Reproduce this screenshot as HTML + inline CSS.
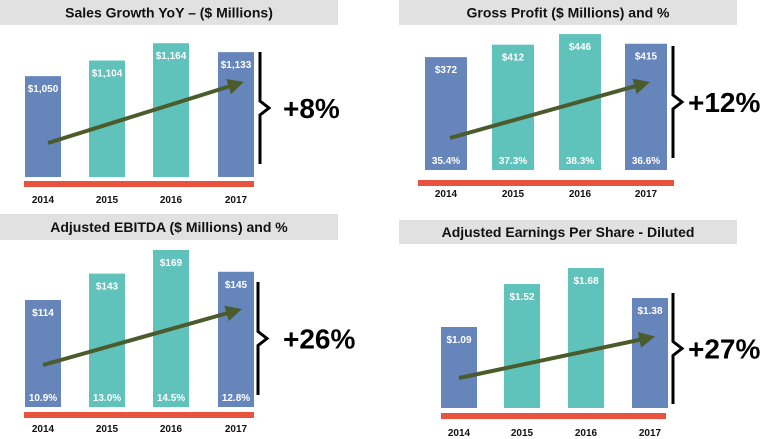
<!DOCTYPE html>
<html><head><meta charset="utf-8"><style>
html,body{margin:0;padding:0;background:#fff;width:760px;height:439px;overflow:hidden}
svg{display:block;font-family:"Liberation Sans",Arial,sans-serif}
</style></head><body>
<svg id="c" width="760" height="439" viewBox="0 0 760 439"></svg>
<script>
const years = ["2014","2015","2016","2017"];
const salesValues = [1050,1104,1164,1133];
const salesLabels = ["$1,050","$1,104","$1,164","$1,133"];
const gpValues = [372,412,446,415];
const gpLabels = ["$372","$412","$446","$415"];
const gpPct = ["35.4%","37.3%","38.3%","36.6%"];
const ebitdaValues = [114,143,169,145];
const ebitdaLabels = ["$114","$143","$169","$145"];
const ebitdaPct = ["10.9%","13.0%","14.5%","12.8%"];
const epsValues = [1.09,1.52,1.68,1.38];
const epsLabels = ["$1.09","$1.52","$1.68","$1.38"];
const growthLabels = ["+8%","+12%","+26%","+27%"];

const NS="http://www.w3.org/2000/svg";
const svg=document.getElementById('c');
function mk(tag,attrs,parent){const e=document.createElementNS(NS,tag);for(const k in attrs)e.setAttribute(k,attrs[k]);(parent||svg).appendChild(e);return e;}
function txt(s,attrs,parent){const e=mk('text',attrs,parent);e.textContent=s;return e;}

const defs=mk('defs',{});
const mkr=mk('marker',{id:'ah',markerWidth:'4',markerHeight:'4',refX:'2.2',refY:'2',orient:'auto',markerUnits:'strokeWidth'},defs);
mk('path',{d:'M0,0 L4,2 L0,4 Z',fill:'#4b5b2b'},mkr);

const panels=[
 {name:'sales',title:'Sales Growth YoY – ($ Millions)',vals:salesValues,labels:salesLabels,pct:null,growth:growthLabels[0],
  tb:[0,0,338,25],bx:[25,89,153,218],bw:36,bottom:177,k:0.289,min:701,red:[24,181,230,6],yrY:203,
  br:[260,52,164],gx:283,arrow:[48,143,237,84]},
 {name:'gross-profit',title:'Gross Profit ($ Millions) and %',vals:gpValues,labels:gpLabels,pct:gpPct,growth:growthLabels[1],
  tb:[399,0,338,25],bx:[425,492,559,625],bw:42,bottom:170,k:0.311,min:9,red:[418,180,256,6],yrY:197,
  br:[673,46,158],gx:688,arrow:[450,138,643,84]},
 {name:'ebitda',title:'Adjusted EBITDA ($ Millions) and %',vals:ebitdaValues,labels:ebitdaLabels,pct:ebitdaPct,growth:growthLabels[2],
  tb:[0,214,338,26],bx:[25,89,153,218],bw:36,bottom:407,k:0.91,min:-3.6,red:[24,412,230,6],yrY:432,
  br:[258,282,395],gx:283,arrow:[43,365,235,311]},
 {name:'eps',title:'Adjusted Earnings Per Share - Diluted',vals:epsValues,labels:epsLabels,pct:null,growth:growthLabels[3],
  tb:[399,220,338,24],bx:[441,504,568,632],bw:36,bottom:408,k:100,min:0.28,red:[441,413,225,6],yrY:436,
  br:[673,293,404],gx:688,arrow:[459,378,648,338]}
];
const colors=['#6585bb','#5fc2bb','#5fc2bb','#6585bb'];

panels.forEach(p=>{
 const g=mk('g',{});
 
 
 const tb=mk('rect',{x:p.tb[0],y:p.tb[1],width:p.tb[2],height:p.tb[3],fill:'#e1e1e1'},g);
 
 
 const t=txt(p.title,{x:p.tb[0]+p.tb[2]/2,y:p.tb[1]+p.tb[3]/2+5,'text-anchor':'middle','font-size':'14','font-weight':'bold',fill:'#111'},g);
 
 
 const yScale=v=>(v-p.min)*p.k;
 p.vals.forEach((v,i)=>{
  const h=yScale(v), x=p.bx[i], top=p.bottom-h;
  const r=mk('rect',{x:x,y:top,width:p.bw,height:h,fill:colors[i]},g);
  
  
  const l=txt(p.labels[i],{x:x+p.bw/2,y:top+16,'text-anchor':'middle','font-size':'10','font-weight':'bold',fill:'#fff'},g);
  
  
  if(p.pct){
   const pl=txt(p.pct[i],{x:x+p.bw/2,y:p.bottom-6,'text-anchor':'middle','font-size':'10','font-weight':'bold',fill:'#fff'},g);
   
   
  }
  const yl=txt(years[i],{x:x+p.bw/2,y:p.yrY,'text-anchor':'middle','font-size':'10','font-weight':'bold',fill:'#111'},g);
  
  
 });
 const rb=mk('rect',{x:p.red[0],y:p.red[1],width:p.red[2],height:p.red[3],fill:'#e8533d'},g);
 
 
 const a=p.arrow;
 const ar=mk('line',{x1:a[0],y1:a[1],x2:a[2],y2:a[3],stroke:'#4b5b2b','stroke-width':'4','marker-end':'url(#ah)'},g);
 
 
 const bx=p.br[0], y1=p.br[1], y2=p.br[2], ym=(y1+y2)/2;
 const bp=mk('path',{d:`M${bx},${y1} L${bx},${ym-7} L${bx+9},${ym} L${bx},${ym+7} L${bx},${y2}`,fill:'none',stroke:'#000','stroke-width':'3'},g);
 
 
 const gt=txt(p.growth,{x:p.gx,y:ym+10,'font-size':'28','font-weight':'bold',fill:'#000'},g);
 
 
});
</script>
</body></html>
